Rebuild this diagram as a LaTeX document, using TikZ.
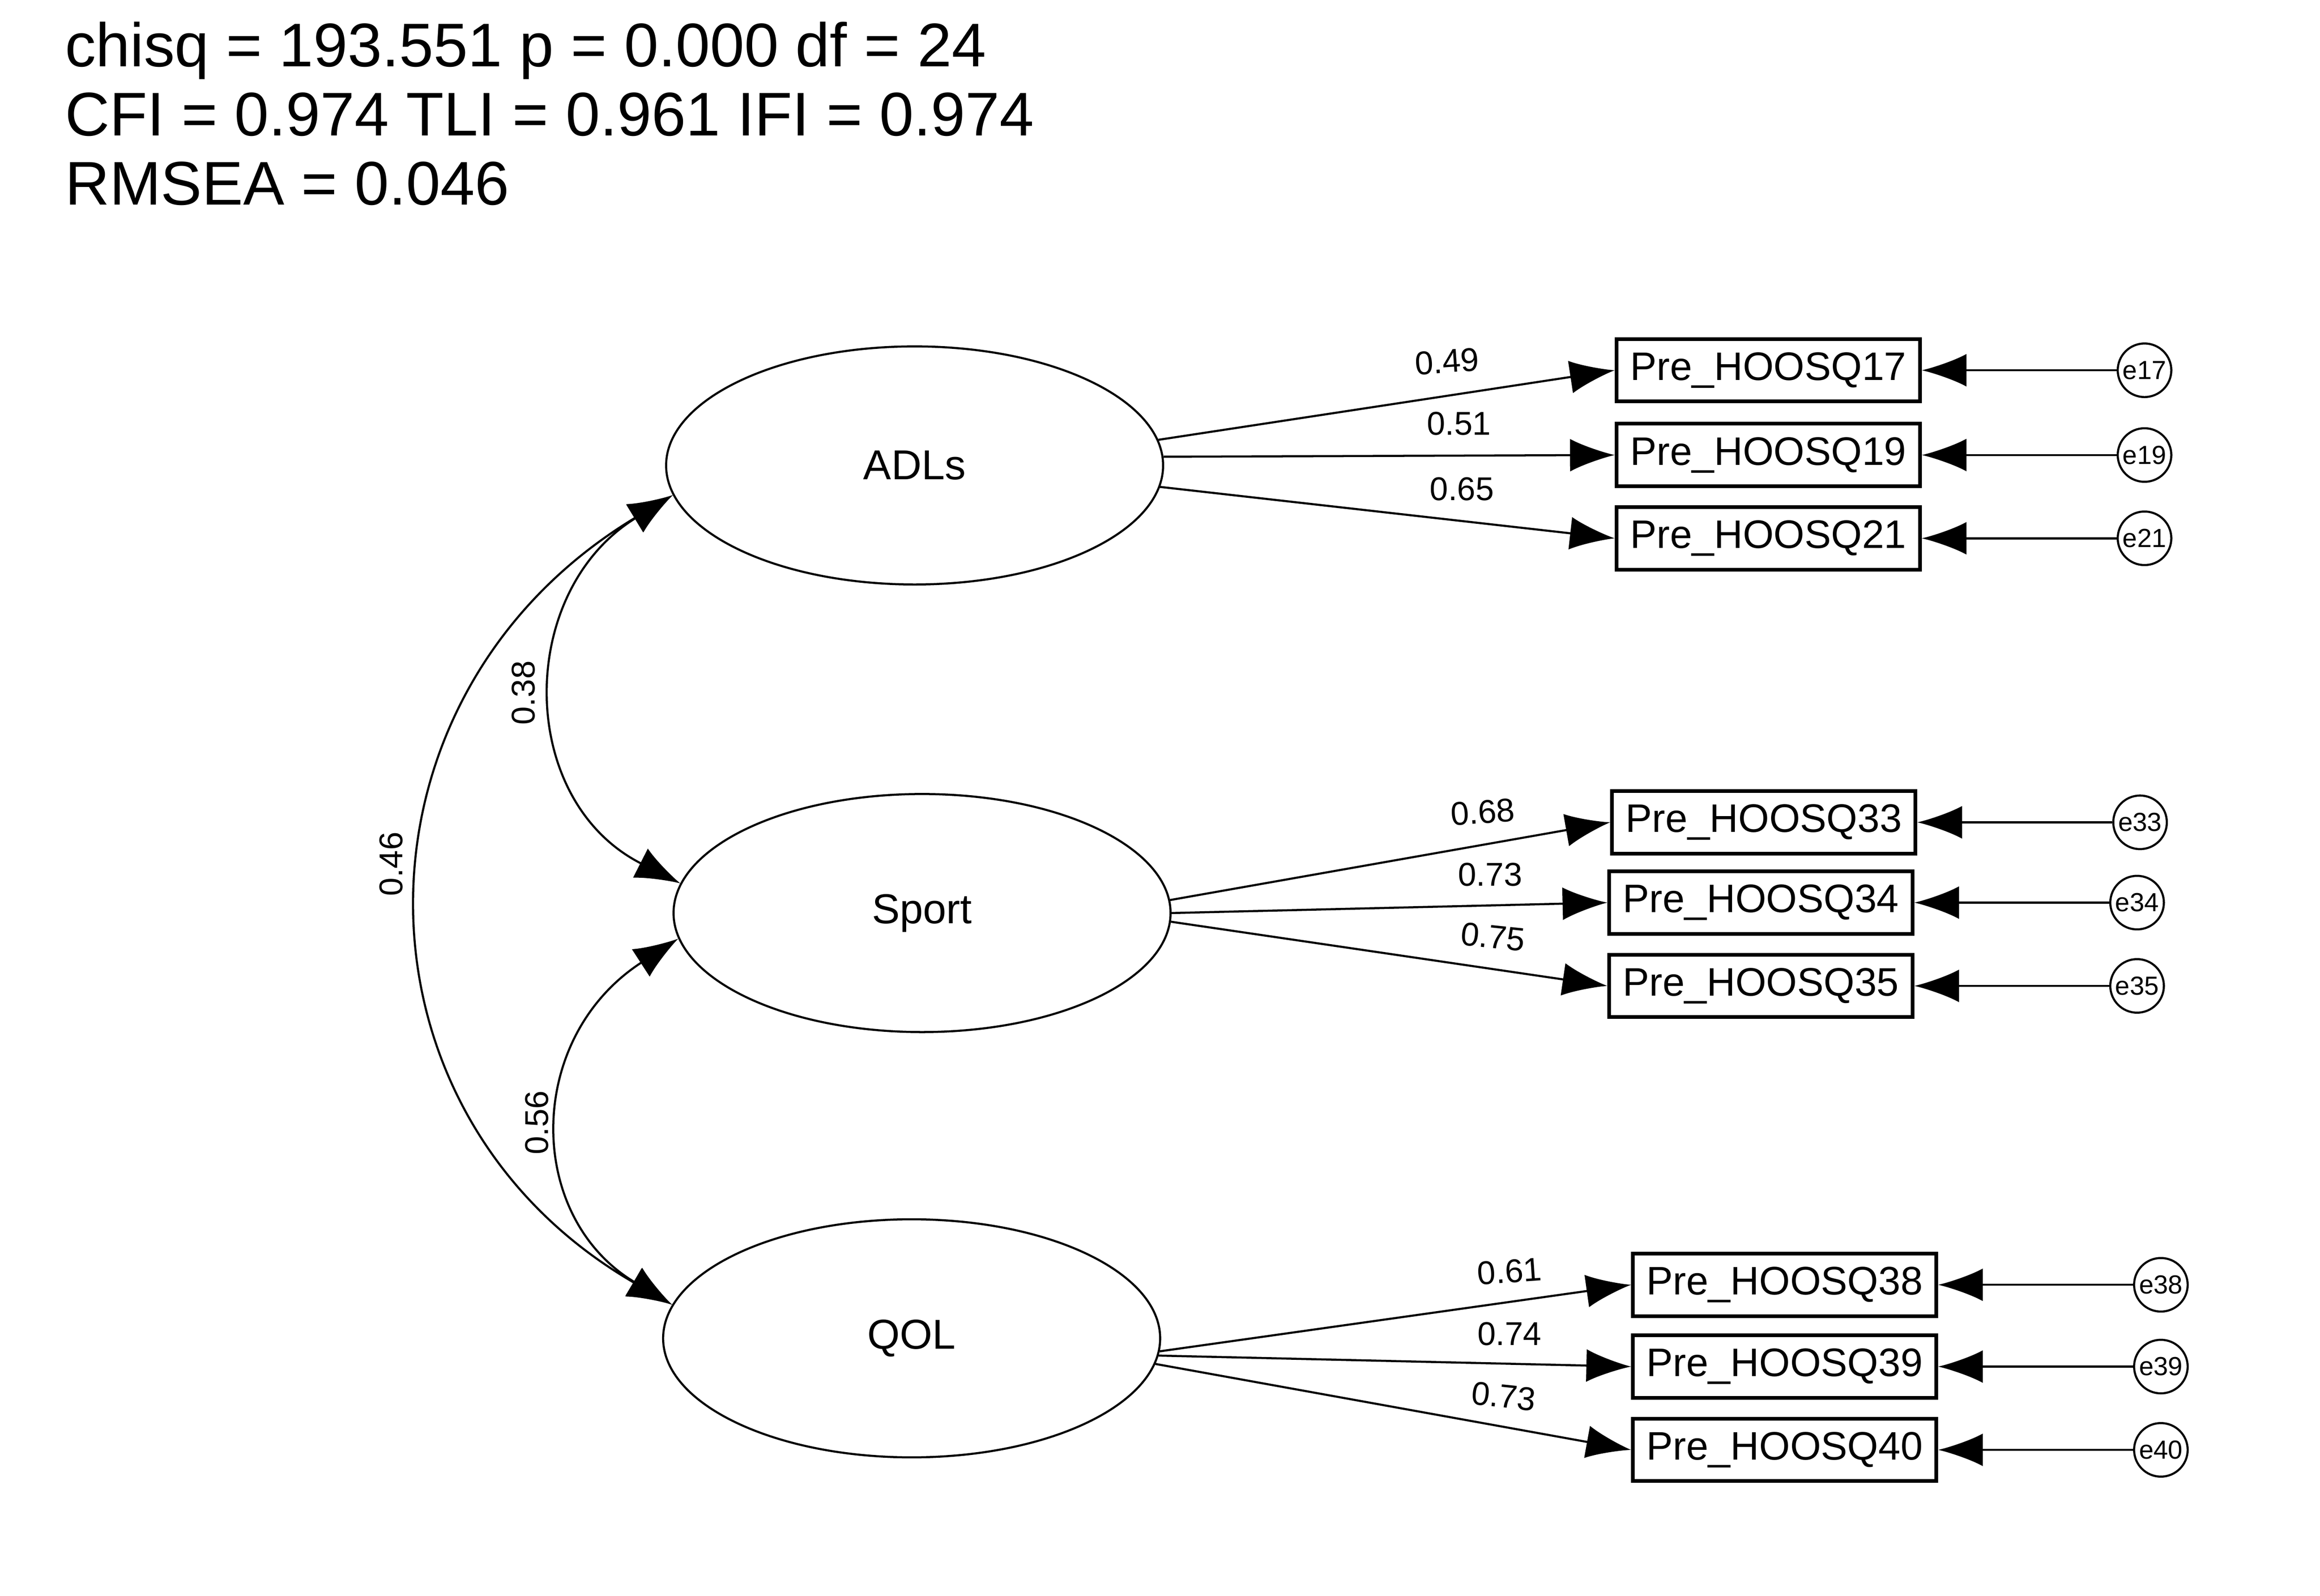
\documentclass[tikz,border=0pt]{standalone}
\usepackage{fontspec}
\setmainfont{Liberation Sans}
\usetikzlibrary{shapes.geometric,arrows.meta}
\begin{document}
\begin{tikzpicture}[x=0.01cm,y=-0.01cm,
  lat/.style={draw,ellipse,minimum width=3.34cm,minimum height=1.6cm,inner sep=0pt,font=\fontsize{8}{9}\selectfont},
  obs/.style={draw,rectangle,minimum width=2.04cm,minimum height=0.42cm,inner sep=0pt,font=\fontsize{7.6}{9}\selectfont,line width=0.7pt},
  err/.style={draw,circle,minimum size=0.36cm,inner sep=0pt,font=\fontsize{5}{6}\selectfont},
  tip/.style={-{Latex[length=0.3cm,width=0.22cm]}},
  tips/.style={{Latex[length=0.3cm,width=0.22cm]}-{Latex[length=0.3cm,width=0.22cm]}},
  lab/.style={font=\fontsize{6.3}{7}\selectfont}]
\useasboundingbox (0,0) rectangle (1560,1073);
\node[anchor=north west,align=left,inner sep=0pt,font=\fontsize{11.8}{13.2}\selectfont] (hdr) at (43,14) {chisq = 193.551 p = 0.000 df = 24\\CFI = 0.974 TLI = 0.961 IFI = 0.974\\RMSEA = 0.046};
\begin{scope}[xshift=-0.05cm,yshift=0.02cm]
\node[lat] (adl) at (620,315) {ADLs};
\node[lat] (spo) at (625,616) {Sport};
\node[lat] (qol) at (618,902) {QOL};
\foreach \n/\x/\y in {17/1194/251,19/1194/308,21/1194/364,33/1191/555,34/1189/609,35/1189/665,38/1205/866,39/1205/921,40/1205/977}{
  \node[obs] (q\n) at (\x,\y) {Pre\_HOOSQ\n};
}
\foreach \n/\x/\y in {17/1447/251,19/1447/308,21/1447/364,33/1444/555,34/1442/609,35/1442/665,38/1458/866,39/1458/921,40/1458/977}{
  \node[err] (e\n) at (\x,\y) {e\n};
  \draw[tip] (e\n) -- (q\n);
}
\draw[tip] (adl.6.6) -- (q17.west);
\draw[tip] (adl.2.8) -- (q19.west);
\draw[tip] (adl.-5) -- (q21.west);
\draw[tip] (spo.3.4) -- (q33.west);
\draw[tip] (spo.0.7) -- (q34.west);
\draw[tip] (spo.-2) -- (q35.west);
\draw[tip] (qol.-3.4) -- (q38.west);
\draw[tip] (qol.-4.8) -- (q39.west);
\draw[tip] (qol.-6.2) -- (q40.west);
\node[lab,rotate=4] (l1) at (978,245) {0.49};
\node[lab] (l2) at (986,287) {0.51};
\node[lab] (l3) at (988,331) {0.65};
\node[lab,rotate=4] (l4) at (1002,548) {0.68};
\node[lab] (l5) at (1007,590) {0.73};
\node[lab,rotate=-6] (l6) at (1009,632) {0.75};
\node[lab,rotate=4] (l7) at (1020,857) {0.61};
\node[lab] (l8) at (1020,899) {0.74};
\node[lab,rotate=-6] (l9) at (1016,941) {0.73};
\draw[tips] (adl.187.6) .. controls (352,400) and (352,540) .. (spo.173.7);
\draw[tips] (adl.187.6) .. controls (233,470) and (233,750) .. (qol.172.3);
\draw[tips] (spo.186.3) .. controls (358,700) and (358,820) .. (qol.172.3);
\node[lab,rotate=90] (c1) at (357,468) {0.38};
\node[lab,rotate=90] (c2) at (268,583) {0.46};
\node[lab,rotate=90] (c3) at (366,757) {0.56};
\end{scope}
\end{tikzpicture}
\end{document}
